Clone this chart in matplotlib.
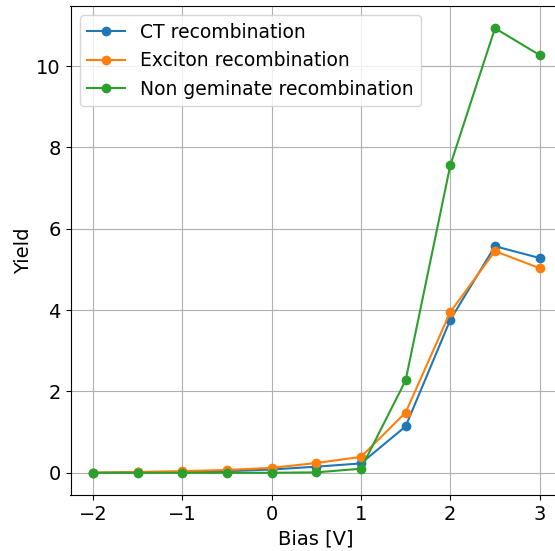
import matplotlib
matplotlib.use("Agg")
import matplotlib.pyplot as plt

bias = [-2.0, -1.5, -1.0, -0.5, 0.0, 0.5, 1.0, 1.5, 2.0, 2.5, 3.0]
ct_yield = [0.0, 0.01, 0.02, 0.04, 0.08, 0.15, 0.23, 1.14, 3.76, 5.57, 5.28]
exciton_yield = [0.0, 0.02, 0.04, 0.07, 0.12, 0.24, 0.39, 1.48, 3.95, 5.45, 5.03]
nongem_yield = [0.0, 0.0, 0.0, 0.0, 0.0, 0.01, 0.1, 2.27, 7.56, 10.93, 10.27]

plt.rcParams['font.size'] = 14

fig = plt.figure(figsize=(5.55, 5.51), dpi=100)
ax = fig.add_axes([70.5 / 555, 56 / 551, 491.5 / 555, 489 / 551])

ax.plot(bias, ct_yield, 'o-', label='CT recombination')
ax.plot(bias, exciton_yield, 'o-', label='Exciton recombination')
ax.plot(bias, nongem_yield, 'o-', label='Non geminate recombination')

ax.set_xlabel('Bias [V]')
ax.set_ylabel('Yield', labelpad=2)
ax.grid(True)
ax.legend(loc='upper left', fontsize=13.5)

fig.savefig('out.png', dpi=100)
